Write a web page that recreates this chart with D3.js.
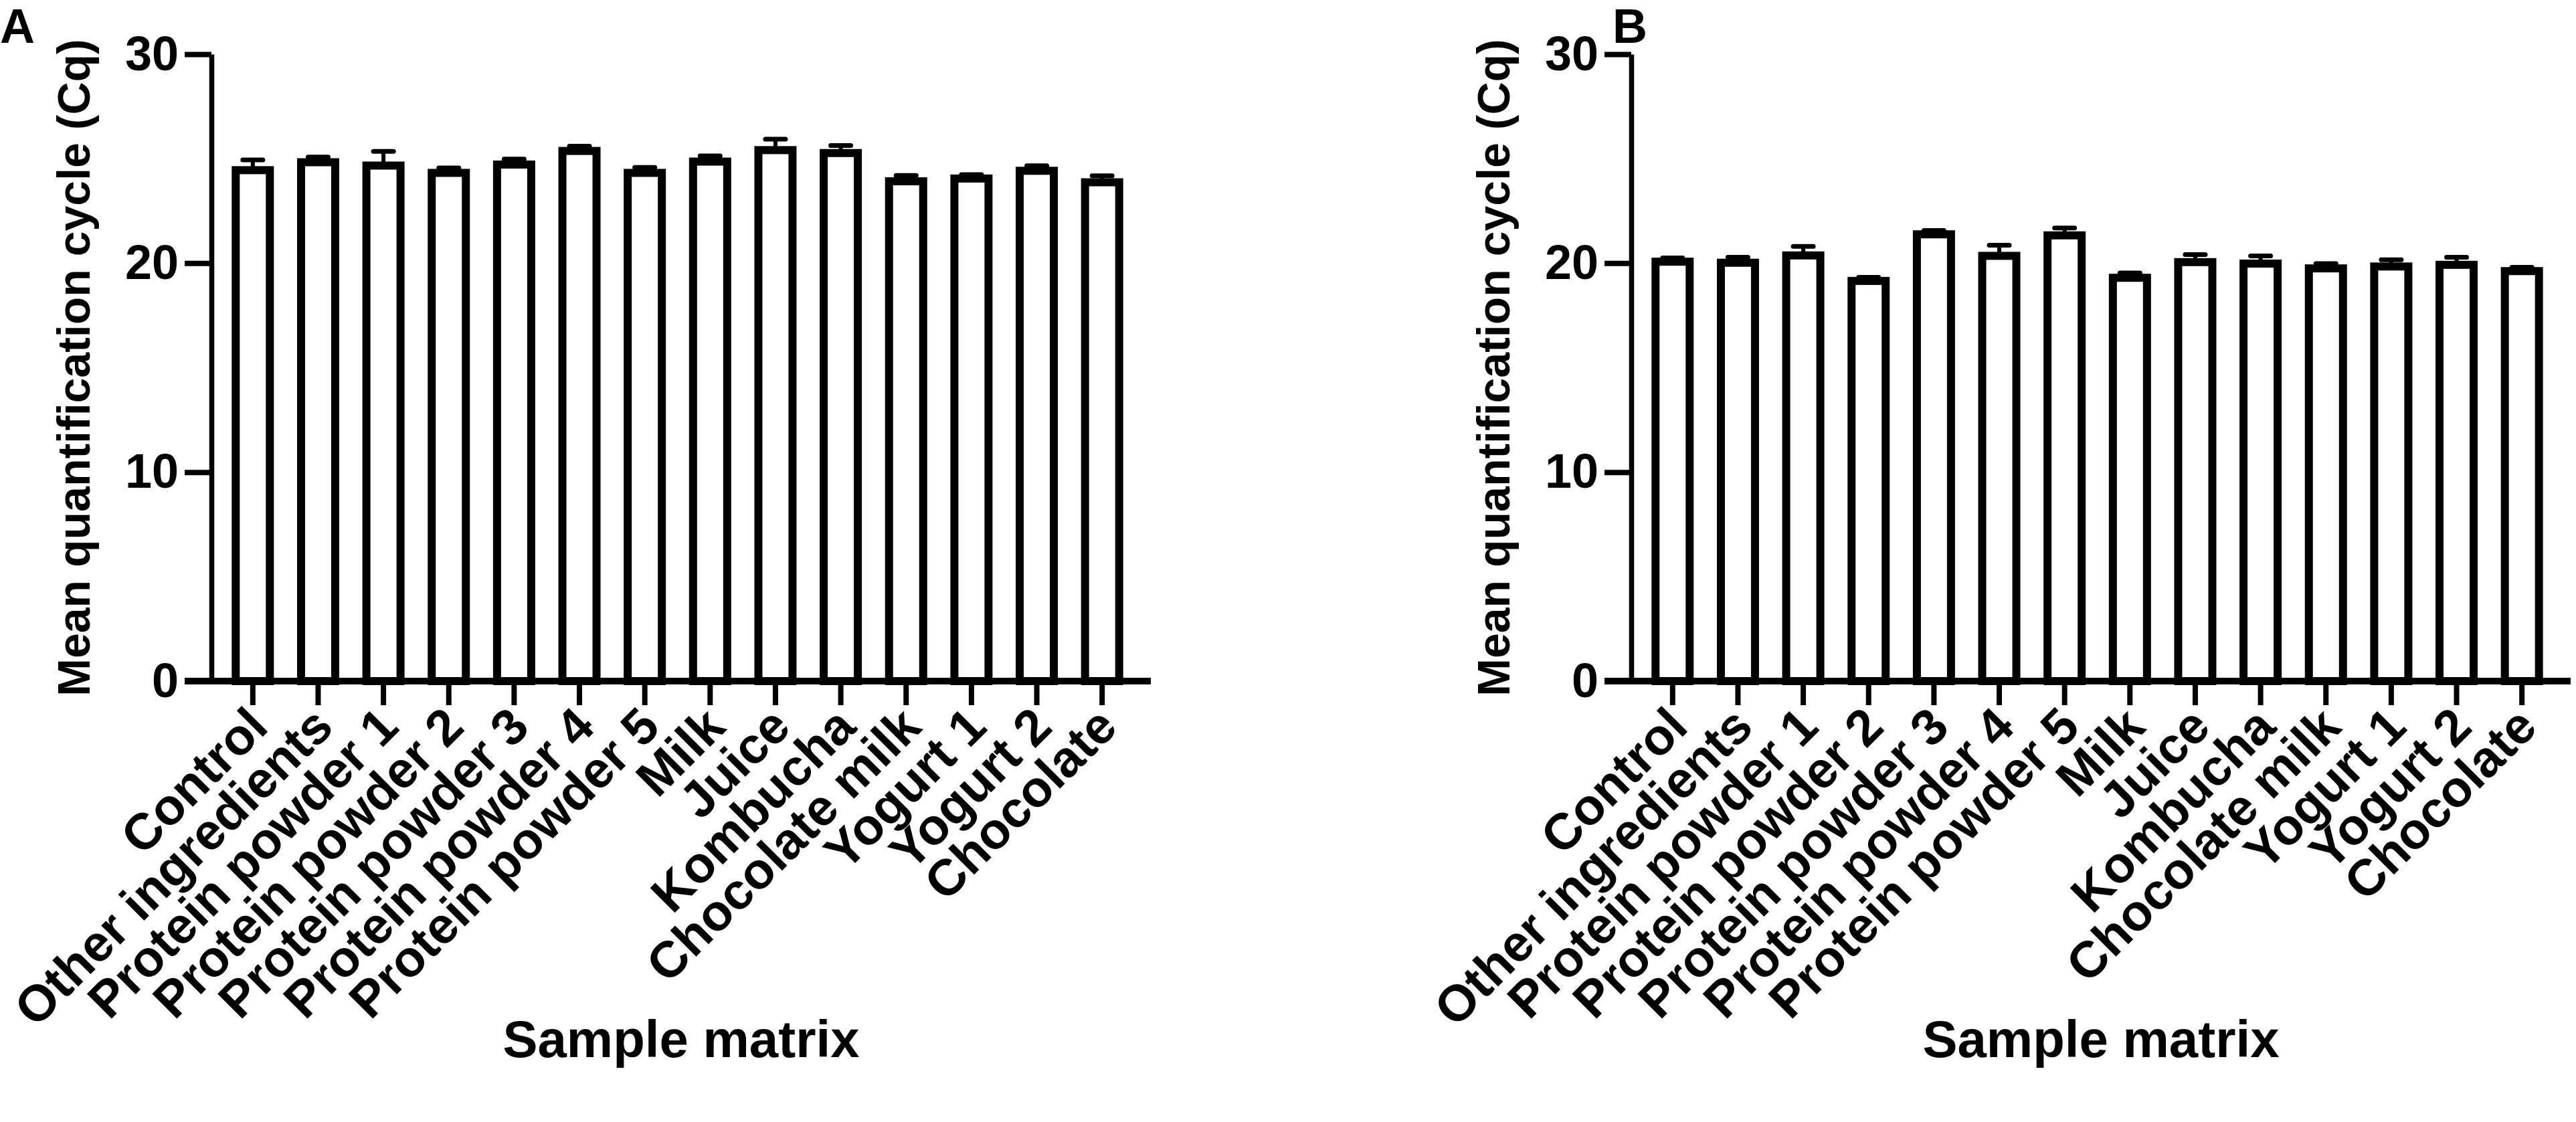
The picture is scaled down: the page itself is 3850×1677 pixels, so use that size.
<!DOCTYPE html>
<html>
<head>
<meta charset="utf-8">
<script src="https://cdnjs.cloudflare.com/ajax/libs/d3/7.8.5/d3.min.js"></script>
<style>
  body { margin: 0; background: #fff; }
  text { font-family: 'Liberation Sans', Arial, sans-serif; font-weight: bold; fill: #000; }
</style>
</head>
<body>
<div class="canvas"></div>
<script>
// sample matrices (same for both panels)
const categories = ['Control', 'Other ingredients', 'Protein powder 1', 'Protein powder 2',
    'Protein powder 3', 'Protein powder 4', 'Protein powder 5', 'Milk', 'Juice',
    'Kombucha', 'Chocolate milk', 'Yogurt 1', 'Yogurt 2', 'Chocolate'];

// panel A: mean Cq and error
const meanA = [24.45, 24.83, 24.67, 24.32, 24.72, 25.37, 24.32, 24.86, 25.41, 25.27, 23.92, 24.05, 24.42, 23.87];
const errA  = [0.49, 0.25, 0.68, 0.24, 0.26, 0.23, 0.26, 0.27, 0.52, 0.36, 0.28, 0.19, 0.24, 0.31];

// panel B: mean Cq and error
const meanB = [20.07, 20.02, 20.37, 19.15, 21.38, 20.35, 21.33, 19.30, 20.05, 19.98, 19.75, 19.84, 19.92, 19.62];
const errB  = [0.18, 0.26, 0.43, 0.17, 0.18, 0.51, 0.35, 0.23, 0.36, 0.37, 0.23, 0.32, 0.36, 0.18];

const yTicks = [0, 10, 20, 30];

const width = 3850, height = 1677;

const svg = d3.select('.canvas')
    .append('svg')
        .attr('width', width)
        .attr('height', height);

// shared scales (panel offset handled by transform)
const y = d3.scaleLinear()
    .domain([0, 30])
    .range([1018, 81]);

const x = d3.scaleBand()
    .domain(categories)
    .range([329, 1696])
    .padding(0);

const barW = 51;

function drawPanel(offsetX, letter, letterX, means, errs) {
    const graph = svg.append('g')
        .attr('transform', `translate(${offsetX}, 0)`);

    const data = categories.map((c, i) => ({ name: c, mean: means[i], err: errs[i] }));

    // bars
    graph.selectAll('rect.bar')
        .data(data)
        .enter()
        .append('rect')
        .attr('class', 'bar')
        .attr('x', d => x(d.name) + x.bandwidth() / 2 - barW / 2)
        .attr('y', d => y(d.mean))
        .attr('width', barW)
        .attr('height', d => y(0) - y(d.mean))
        .attr('fill', '#fff')
        .attr('stroke', '#000')
        .attr('stroke-width', 12);

    // error bars (upper only)
    graph.selectAll('line.err-stem')
        .data(data)
        .enter()
        .append('line')
        .attr('class', 'err-stem')
        .attr('x1', d => x(d.name) + x.bandwidth() / 2)
        .attr('x2', d => x(d.name) + x.bandwidth() / 2)
        .attr('y1', d => y(d.mean))
        .attr('y2', d => y(d.mean + d.err))
        .attr('stroke', '#000')
        .attr('stroke-width', 6);

    graph.selectAll('line.err-cap')
        .data(data)
        .enter()
        .append('line')
        .attr('class', 'err-cap')
        .attr('x1', d => x(d.name) + x.bandwidth() / 2 - 15)
        .attr('x2', d => x(d.name) + x.bandwidth() / 2 + 15)
        .attr('y1', d => y(d.mean + d.err))
        .attr('y2', d => y(d.mean + d.err))
        .attr('stroke', '#000')
        .attr('stroke-width', 7)
        .attr('stroke-linecap', 'round');

    // y axis
    const yAxis = d3.axisLeft(y)
        .tickValues(yTicks)
        .tickSize(40)
        .tickSizeOuter(0)
        .tickPadding(9);

    const yG = graph.append('g')
        .attr('transform', `translate(316, 0)`)
        .call(yAxis);
    yG.select('.domain').attr('stroke-width', 7.5);
    yG.selectAll('.tick line').attr('stroke-width', 8);
    yG.selectAll('.tick text')
        .attr('font-size', 72)
        .attr('font-family', "'Liberation Sans', Arial, sans-serif")
        .attr('font-weight', 'bold');

    // x axis
    const xAxis = d3.axisBottom(x)
        .tickSize(36)
        .tickSizeOuter(0);

    const xG = graph.append('g')
        .attr('transform', `translate(0, 1018)`)
        .call(xAxis);
    xG.select('.domain').remove();
    xG.selectAll('.tick line').attr('stroke-width', 8);
    xG.selectAll('.tick text')
        .attr('font-size', 76)
        .attr('font-family', "'Liberation Sans', Arial, sans-serif")
        .attr('font-weight', 'bold')
        .attr('text-anchor', 'end')
        .attr('x', 0)
        .attr('y', 0)
        .attr('dy', 0)
        .attr('transform', 'translate(26, 72) rotate(-45)');

    graph.append('line')
        .attr('x1', 276)
        .attr('x2', 1720)
        .attr('y1', 1018)
        .attr('y2', 1018)
        .attr('stroke', '#000')
        .attr('stroke-width', 10);

    // axis titles
    graph.append('text')
        .attr('transform', `translate(134, ${(y(0) + y(30)) / 2}) rotate(-90)`)
        .attr('text-anchor', 'middle')
        .attr('font-size', 68)
        .text('Mean quantification cycle (Cq)');

    graph.append('text')
        .attr('x', (316 + 1720) / 2)
        .attr('y', 1580)
        .attr('text-anchor', 'middle')
        .attr('font-size', 78)
        .text('Sample matrix');

    // panel letter
    graph.append('text')
        .attr('x', letterX)
        .attr('y', 64)
        .attr('font-size', 72)
        .text(letter);
}

drawPanel(0, 'A', 0, meanA, errA);
drawPanel(2122, 'B', 288, meanB, errB);
</script>
</body>
</html>
